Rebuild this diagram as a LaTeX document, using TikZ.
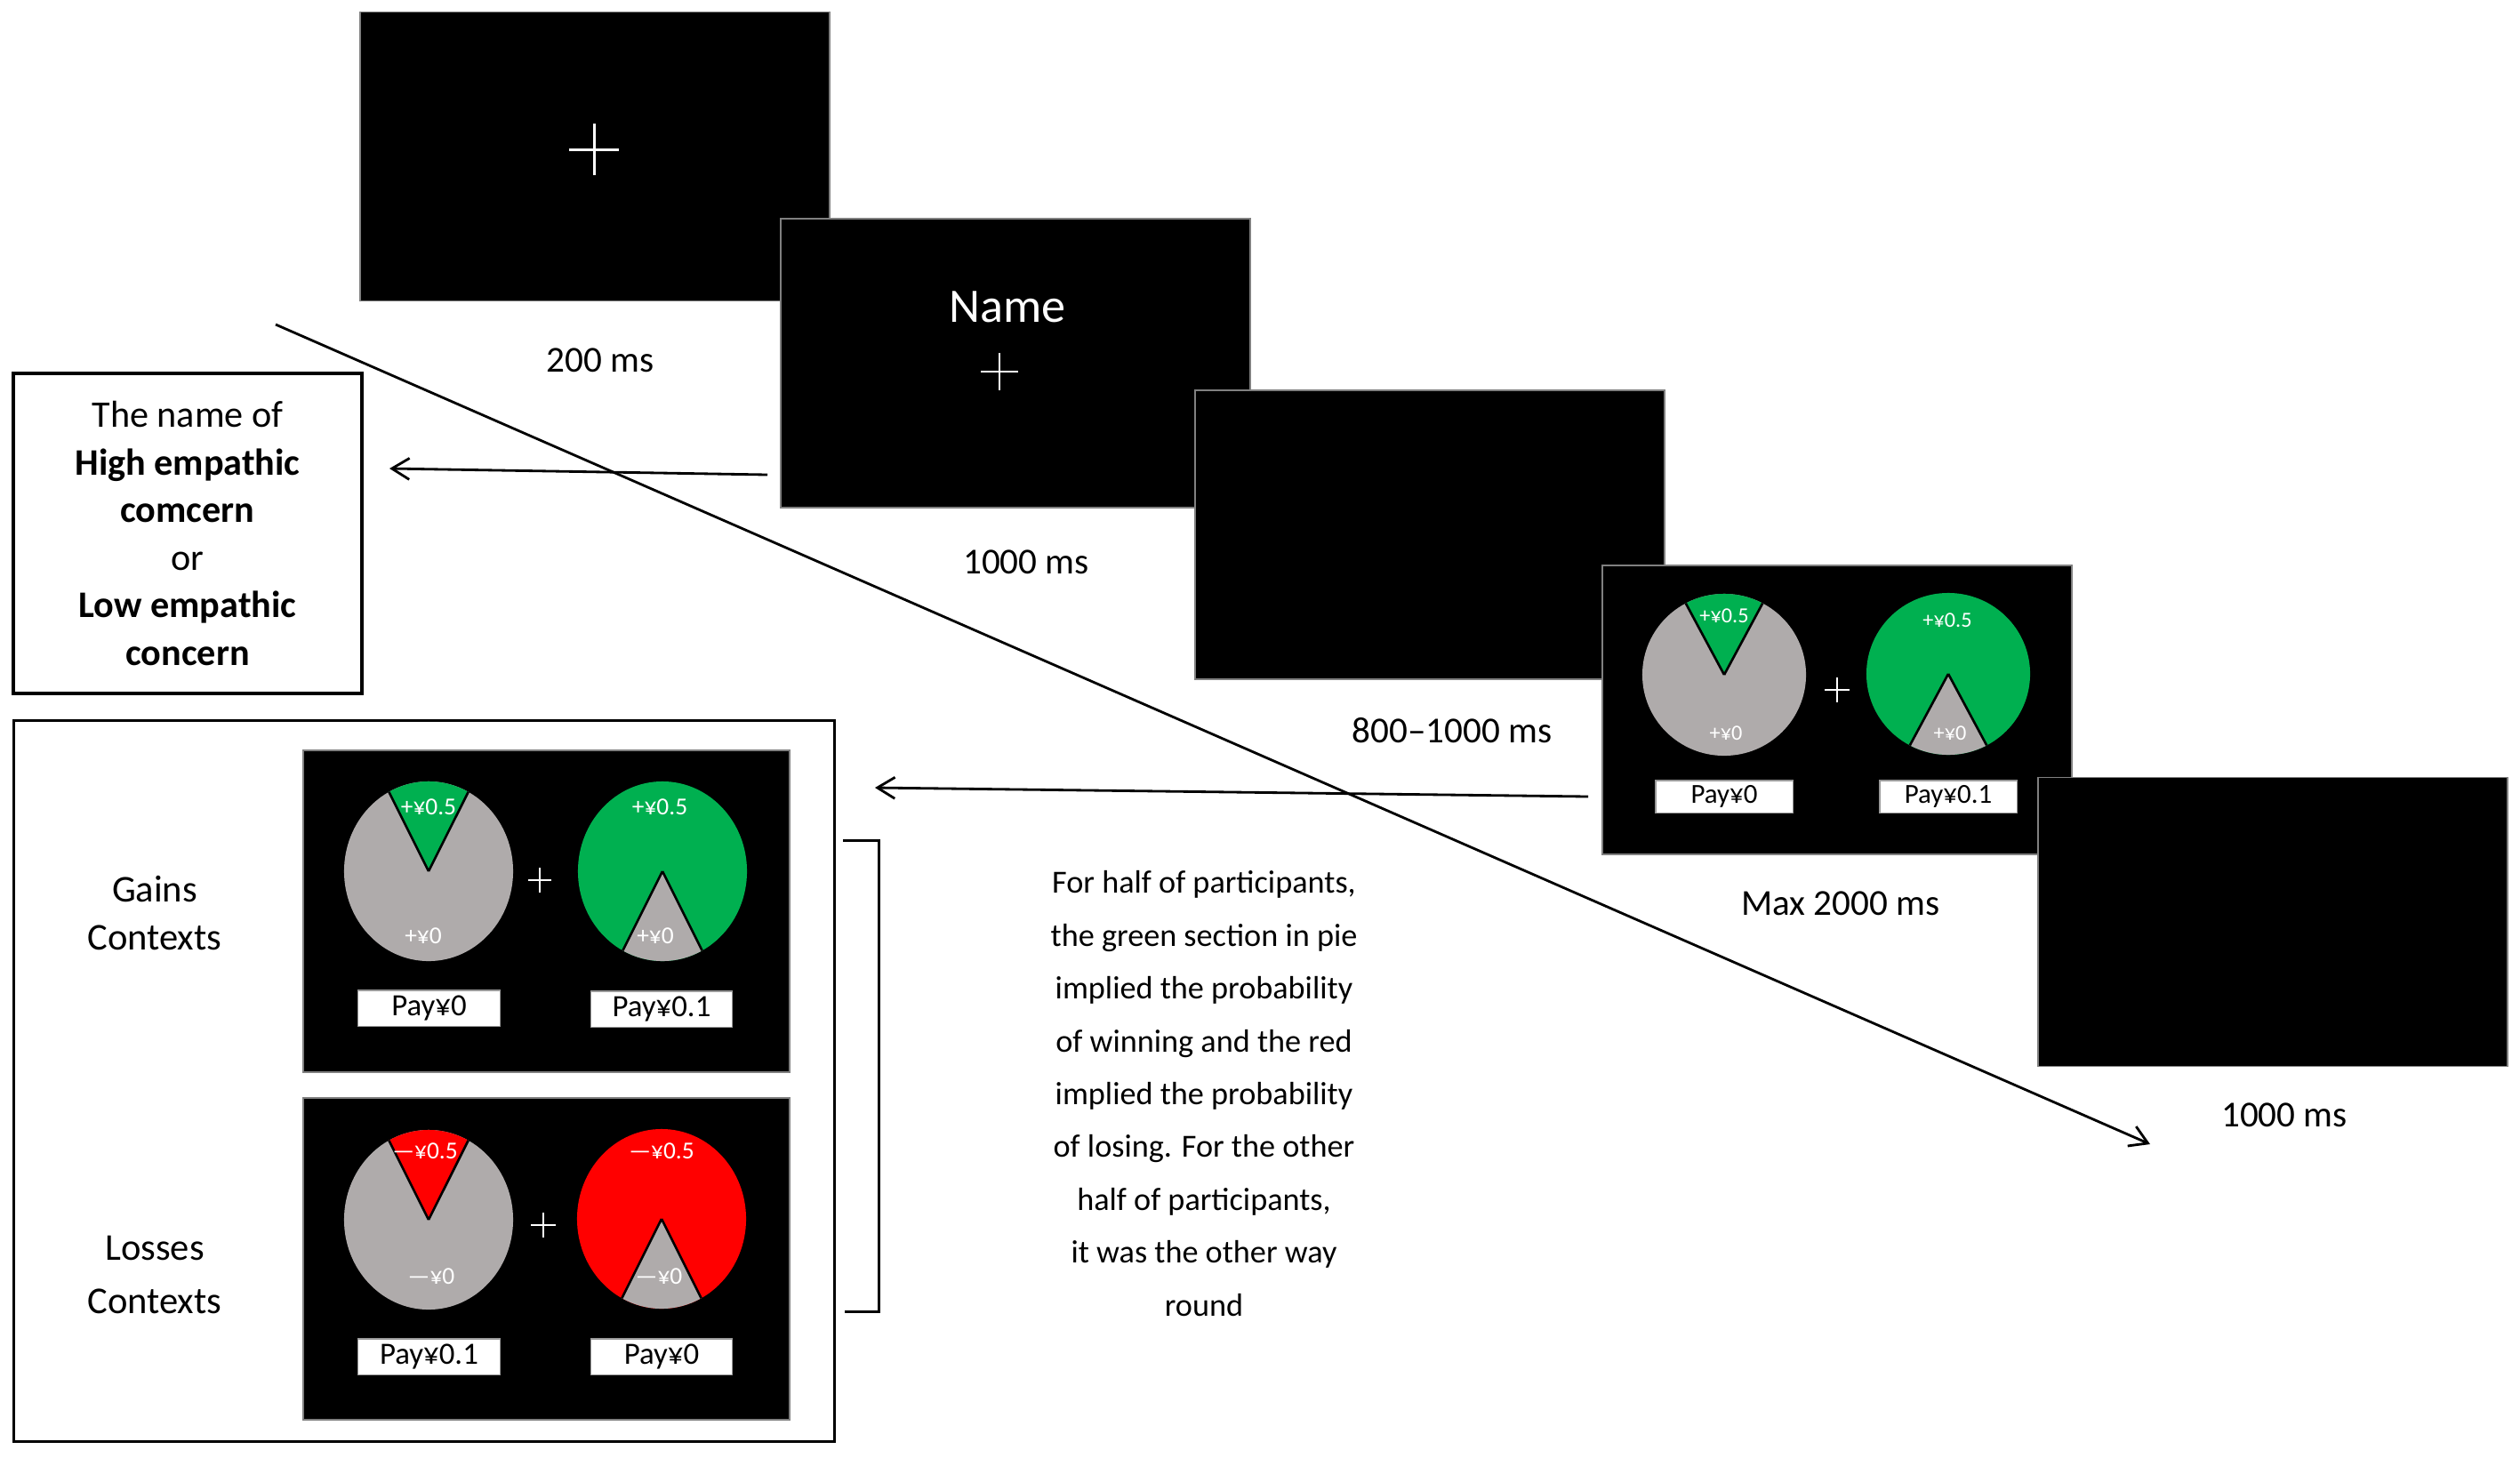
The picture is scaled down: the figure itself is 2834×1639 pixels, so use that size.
\documentclass[tikz,border=0pt]{standalone}
\usepackage{fontspec}
\setmainfont{Carlito}
\usetikzlibrary{arrows.meta}

\definecolor{wingreen}{RGB}{0,176,80}
\definecolor{losered}{RGB}{255,0,0}
\definecolor{piegrey}{RGB}{175,171,171}

\newcommand{\fsz}[2]{\fontsize{#1}{#2}\selectfont}

% pie chart: centre, x radius, y radius, body colour, wedge colour, wedge direction
\newcommand{\piechart}[6]{%
  \fill[#4] (#1) ellipse [x radius=#2, y radius=#3];
  \fill[#5] (#1) -- +(#6-28:#2 and #3) arc [start angle=#6-28, end angle=#6+28, x radius=#2, y radius=#3] -- cycle;
  \draw[wedgeline] (#1) -- +(#6-28:#2 and #3) (#1) -- +(#6+28:#2 and #3);
}

\tikzset{
  screen/.style={fill=black, draw=black!50, line width=0.4pt, inner sep=0pt,
    minimum width=5.28cm, minimum height=3.25cm},
  ctxscreen/.style={screen, minimum width=5.47cm, minimum height=3.62cm},
  timelabel/.style={font=\fsz{11.7}{14}},
  paybox/.style={fill=white, draw=black!40, line width=0.3pt, inner sep=0pt,
    minimum width=1.54cm, minimum height=0.36cm, font=\fsz{8.8}{10}},
  bigpay/.style={paybox, minimum width=1.59cm, minimum height=0.40cm, font=\fsz{9.9}{11}},
  pielabel/.style={text=white, inner sep=0pt, font=\fsz{6.9}{8}},
  bigpielabel/.style={pielabel, font=\fsz{7.8}{9}},
  crossline/.style={white, line width=0.85pt},
  pluscross/.style={white, line width=0.5pt},
  wedgeline/.style={black, line width=0.75pt},
  frame/.style={draw, line width=0.95pt, inner sep=0pt},
  arr/.style={line width=0.8pt, -{Straight Barb[length=5.6pt, width=6.8pt]}},
}

\begin{document}
\begin{tikzpicture}[x=0.01cm, y=-0.01cm]
  \useasboundingbox (0,0) rectangle (2834,1639);

  % trial screens
  \node[screen] (s1) at (669,176) {};
  \node[screen] (s2) at (1142,408.5) {};
  \node[screen] (s3) at (1608,601.5) {};
  \node[screen] (s4) at (2066,798.5) {};
  \node[screen] (s5) at (2556,1037) {};

  \coordinate (fx1) at (668,168);
  \draw[crossline] (fx1)+(-28,0) -- +(28,0) (fx1)+(0,-29) -- +(0,29);
  \node[text=white, font=\fsz{15.4}{18}] (name) at (1133,345) {Name};
  \coordinate (fx2) at (1124,418);
  \draw[crossline, line width=0.7pt] (fx2)+(-21,0) -- +(21,0) (fx2)+(0,-21) -- +(0,21);

  % choice screen
  \coordinate (p1) at (1939,759);
  \coordinate (p2) at (2191,758);
  \piechart{p1}{0.92cm}{0.91cm}{piegrey}{wingreen}{90}
  \piechart{p2}{0.92cm}{0.91cm}{wingreen}{piegrey}{270}
  \node[pielabel] (p1top) at (1939,693) {+¥0.5};
  \node[pielabel] (p1bot) at (1941,825) {+¥0};
  \node[pielabel] (p2top) at (2190,698) {+¥0.5};
  \node[pielabel] (p2bot) at (2193,825) {+¥0};
  \coordinate (fx4) at (2066,776);
  \draw[pluscross] (fx4)+(-14,0) -- +(14,0) (fx4)+(0,-14) -- +(0,14);
  \node[paybox] (pay1) at (1939,896) {Pay¥0};
  \node[paybox] (pay2) at (2191,896) {Pay¥0.1};

  % durations
  \node[timelabel] (t1) at (675,405) {200 ms};
  \node[timelabel] (t2) at (1154,632) {1000 ms};
  \node[timelabel] (t3) at (1633,822) {800–1000 ms};
  \node[timelabel] (t4) at (2070,1016) {Max 2000 ms};
  \node[timelabel] (t5) at (2569,1254) {1000 ms};

  % name box
  \node[frame, minimum width=3.92cm, minimum height=3.6cm, align=center,
    font=\fsz{12}{15.2}] (namebox) at (211,600)
    {The name of\\\textbf{High empathic}\\\textbf{comcern}\\or\\\textbf{Low empathic}\\\textbf{concern}};

  % contexts box
  \node[frame, line width=0.85pt, minimum width=9.22cm, minimum height=8.1cm] (ctxbox) at (477,1216) {};
  \node[ctxscreen] (gains) at (614.5,1025) {};
  \node[ctxscreen] (losses) at (614.5,1416) {};
  \node[align=center, font=\fsz{12.1}{15.4}] (gainlab) at (174,1027) {Gains\\Contexts};
  \node[align=center, font=\fsz{12.1}{17}] (losslab) at (174,1434) {Losses\\Contexts};

  \coordinate (g1) at (482,980);
  \coordinate (g2) at (745,980);
  \piechart{g1}{0.95cm}{1.01cm}{piegrey}{wingreen}{90}
  \piechart{g2}{0.95cm}{1.01cm}{wingreen}{piegrey}{270}
  \node[bigpielabel] (g1top) at (482,908) {+¥0.5};
  \node[bigpielabel] (g1bot) at (476,1053) {+¥0};
  \node[bigpielabel] (g2top) at (742,908) {+¥0.5};
  \node[bigpielabel] (g2bot) at (737,1053) {+¥0};
  \coordinate (fxg) at (607,990);
  \draw[pluscross] (fxg)+(-13,0) -- +(13,0) (fxg)+(0,-14) -- +(0,14);
  \node[bigpay] (gpay1) at (482.5,1134) {Pay¥0};
  \node[bigpay] (gpay2) at (744,1135) {Pay¥0.1};

  \coordinate (l1) at (482,1372);
  \coordinate (l2) at (744,1371);
  \piechart{l1}{0.95cm}{1.01cm}{piegrey}{losered}{90}
  \piechart{l2}{0.95cm}{1.01cm}{losered}{piegrey}{270}
  \node[bigpielabel] (l1top) at (478,1295) {—¥0.5};
  \node[bigpielabel] (l1bot) at (485,1436) {—¥0};
  \node[bigpielabel] (l2top) at (744,1295) {—¥0.5};
  \node[bigpielabel] (l2bot) at (741,1436) {—¥0};
  \coordinate (fxl) at (611,1378);
  \draw[pluscross] (fxl)+(-14,0) -- +(14,0) (fxl)+(0,-14) -- +(0,14);
  \node[bigpay] (lpay1) at (482.5,1526) {Pay¥0.1};
  \node[bigpay] (lpay2) at (744,1526) {Pay¥0};

  % bracket and note
  \draw[line width=0.85pt] (948,945) -| (988,1475) -- (950,1475);
  \node[align=center, font=\fsz{10.3}{16.9}] (note) at (1354,1230)
    {For half of participants,\\the green section in pie\\implied the probability\\of winning and the red\\implied the probability\\of losing. For the other\\half of participants,\\it was the other way\\round};

  % arrows
  \coordinate (nameout) at (863,534);
  \coordinate (nametip) at (438,527);
  \draw[arr] (nameout) -- (nametip);
  \coordinate (pieout) at (1786,896);
  \coordinate (pietip) at (984,886);
  \draw[arr] (pieout) -- (pietip);
  \coordinate (tstart) at (310,365);
  \coordinate (tend) at (2418,1287);
  \draw[arr] (tstart) -- (tend);
\end{tikzpicture}
\end{document}
